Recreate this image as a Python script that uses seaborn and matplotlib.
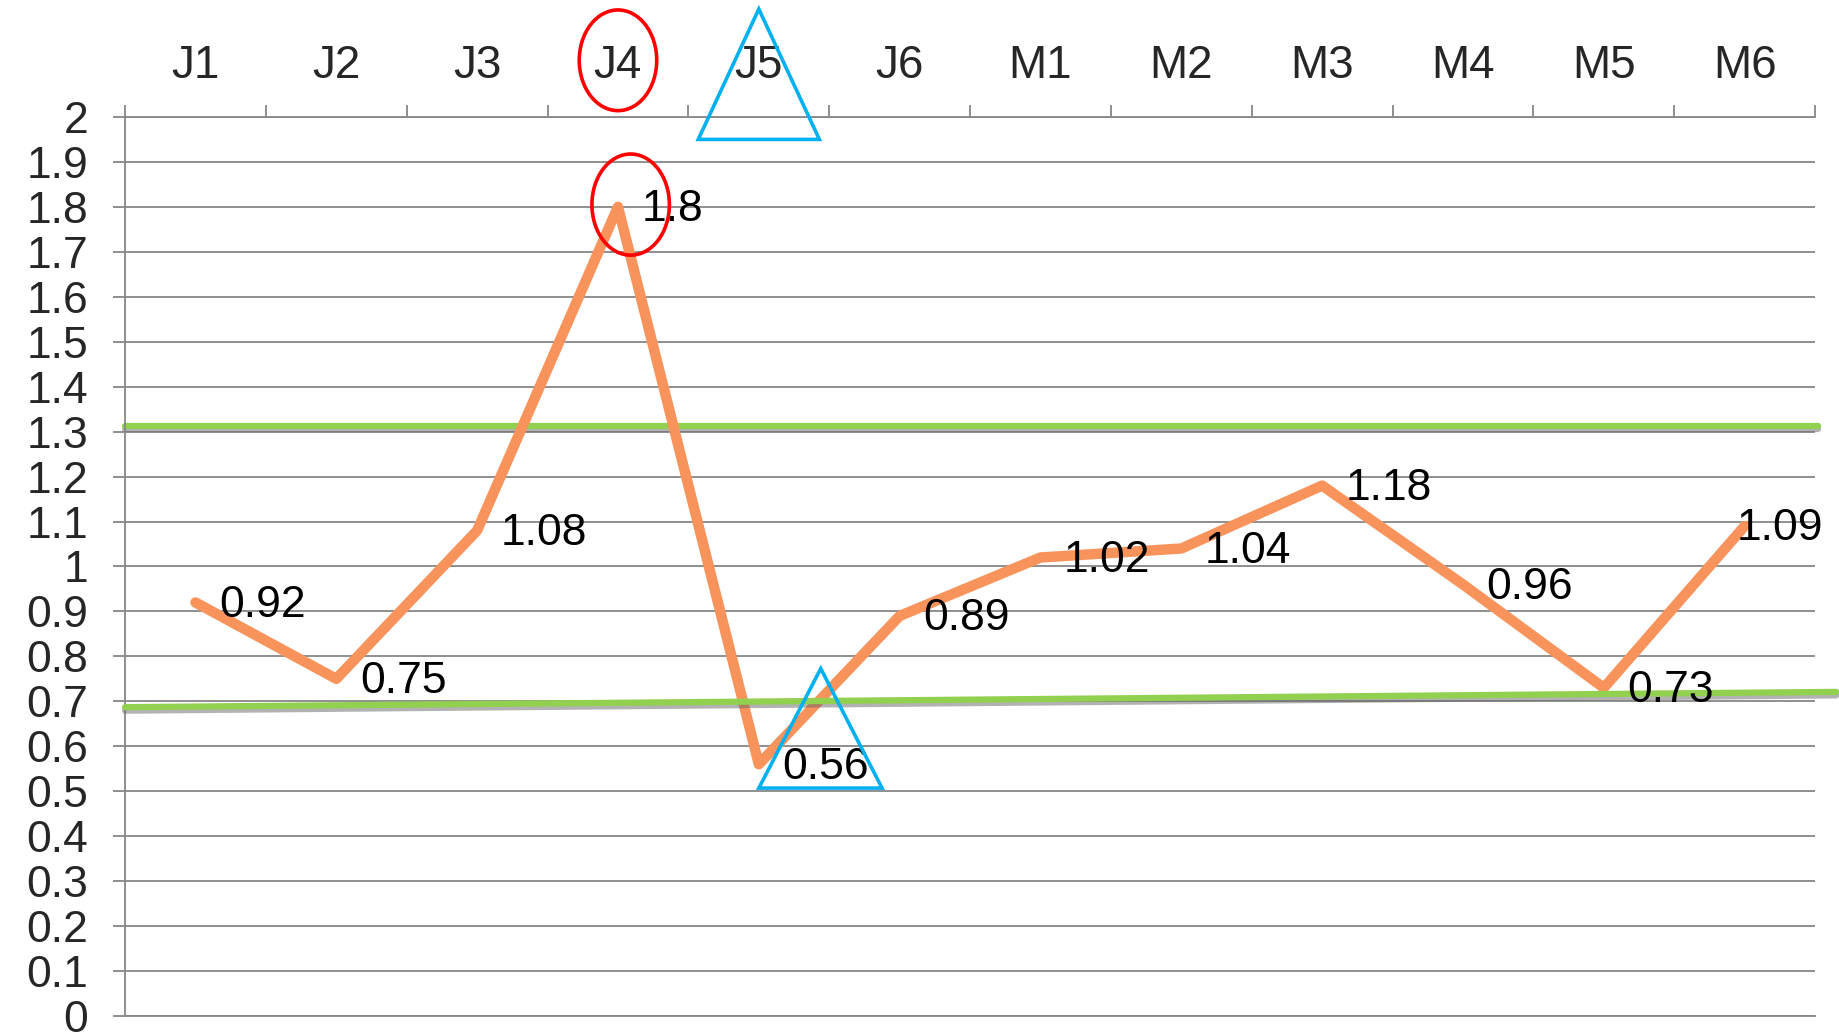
import pandas as pd
import matplotlib
matplotlib.use('Agg')
import matplotlib.pyplot as plt
import matplotlib.patheffects as pe
import matplotlib.transforms as mtransforms
from matplotlib.patches import Ellipse, Polygon
import seaborn as sns

# data
months = ['J1', 'J2', 'J3', 'J4', 'J5', 'J6', 'M1', 'M2', 'M3', 'M4', 'M5', 'M6']
ratio = [0.92, 0.75, 1.08, 1.8, 0.56, 0.89, 1.02, 1.04, 1.18, 0.96, 0.73, 1.09]
label_dx = [17, 17, 17, 17, 17, 17, 17, 17, 17, 17, 17, -6]

# control lines (hand drawn in the original)
upper_x = [-0.5, 11.52]
upper_y = [1.313, 1.313]
lower_x = [-0.5, 11.65]
lower_y = [0.687, 0.721]

y_ticks = [0, 0.1, 0.2, 0.3, 0.4, 0.5, 0.6, 0.7, 0.8, 0.9, 1,
           1.1, 1.2, 1.3, 1.4, 1.5, 1.6, 1.7, 1.8, 1.9, 2]

ORANGE = '#F9935C'
GREEN = '#92D050'
GRID = '#878787'
FS = 32

sns.set_style('white')
plt.rcParams['font.family'] = ['Liberation Sans', 'DejaVu Sans']

df = pd.DataFrame({'month': months, 'ratio': ratio})

fig = plt.figure(figsize=(18.39, 10.34), dpi=100)
ax = fig.add_axes([0.068, 0.0174, 0.919, 0.8695])

# upper control line, under the series
ax.plot(upper_x, upper_y, color=GREEN, lw=4.5, zorder=2, clip_on=False,
        path_effects=[pe.SimpleLineShadow(offset=(0, -2.5), shadow_color='0.4', alpha=0.5), pe.Normal()])

sns.lineplot(data=df, x='month', y='ratio', sort=False, color=ORANGE, lw=7.5,
             solid_joinstyle='round', solid_capstyle='round', zorder=3, ax=ax)

# lower control line, on top of the series
ax.plot(lower_x, lower_y, color=GREEN, lw=4.5, zorder=4, clip_on=False,
        path_effects=[pe.SimpleLineShadow(offset=(0, -2.5), shadow_color='0.4', alpha=0.5), pe.Normal()])

for i, v in enumerate(ratio):
    ax.annotate('{:g}'.format(v), (i, v), xytext=(label_dx[i], -2), textcoords='offset points',
                ha='left', va='center', fontsize=FS, color='black', zorder=5)

ax.set_xlim(-0.5, 11.5)
ax.set_ylim(0, 2)
ax.set_xlabel('')
ax.set_ylabel('')

# category axis on top
ax.xaxis.tick_top()
ax.set_xticks(range(len(months)))
ax.set_xticklabels(months, fontsize=FS + 1)
ax.set_xticks([i - 0.5 for i in range(len(months) + 1)], minor=True)
ax.tick_params(axis='x', which='major', length=0, pad=21)
ax.tick_params(axis='x', which='minor', length=8.5, width=1.3, color=GRID, direction='out')

ax.set_yticks(y_ticks)
ax.set_yticklabels(['{:g}'.format(t) for t in y_ticks], fontsize=FS)
ax.tick_params(axis='y', which='major', length=8.5, width=1.3, color=GRID, direction='out', pad=18, left=True)

ax.grid(axis='y', color=GRID, lw=1.3)
ax.grid(axis='x', visible=False)
for side in ['top', 'left', 'bottom']:
    ax.spines[side].set_color(GRID)
    ax.spines[side].set_linewidth(1.3)
ax.spines['right'].set_visible(False)

# highlight marks: red ellipses around the peak, blue triangles around the low
hi = ratio.index(max(ratio))
lo = ratio.index(min(ratio))
trans_top = mtransforms.blended_transform_factory(ax.transData, ax.transAxes)

ax.add_patch(Ellipse((hi, 1.063), 0.55, 0.112, transform=trans_top, fill=False,
                     edgecolor='#FF0000', lw=2.6, clip_on=False, zorder=6))
ax.add_patch(Ellipse((hi + 0.09, ratio[hi] + 0.005), 0.55, 0.225, fill=False,
                     edgecolor='#FF0000', lw=2.6, clip_on=False, zorder=6))

ax.add_patch(Polygon([(lo, 1.12), (lo - 0.43, 0.975), (lo + 0.43, 0.975)], closed=True,
                     transform=trans_top, fill=False, edgecolor='#00B0F0', lw=2.6,
                     clip_on=False, zorder=6))
ax.add_patch(Polygon([(lo + 0.44, ratio[lo] + 0.213), (lo, ratio[lo] - 0.053),
                      (lo + 0.875, ratio[lo] - 0.053)], closed=True, fill=False,
                     edgecolor='#00B0F0', lw=2.6, clip_on=False, zorder=6))

plt.savefig('out.png', dpi=100)
